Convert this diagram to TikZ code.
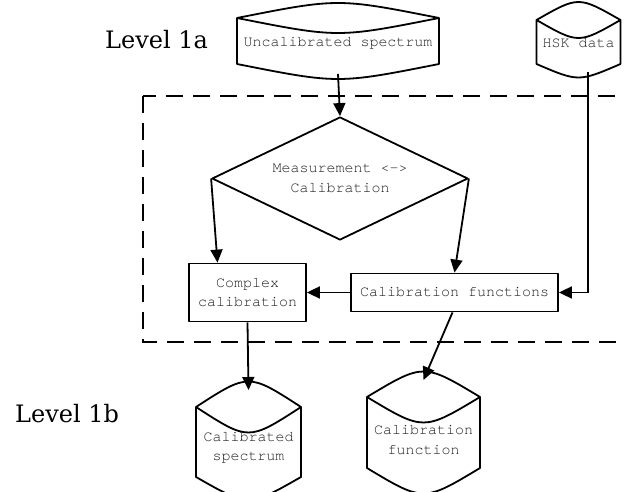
\documentclass[tikz,border=0pt]{standalone}
\usepackage{fontspec}
\setmonofont{TeX Gyre Cursor}
\newfontfamily\lvlfont{DejaVu Serif}
\usetikzlibrary{shapes.geometric,arrows.meta,calc}

% #1 name, #2 centre x, #3 half width, #4 top corner y, #5 bottom corner y, #6 top bulge, #7 bottom bulge
\newcommand\drumshape[7]{%
  \draw[shapeline] (#2-#3,#4) -- (#2-#3,#5) .. controls (#2,#5+2*#7) .. (#2+#3,#5)
    -- (#2+#3,#4) .. controls (#2,#4-2*#6) .. (#2-#3,#4)
    .. controls (#2,#4+2*#6) .. (#2+#3,#4);
  \coordinate (#1-top) at (#2,#4-#6);
  \coordinate (#1-bot) at (#2,#5+#7);
}

\begin{document}
\begin{tikzpicture}[x=1pt,y=-1pt,
  shapeline/.style={draw=black,line width=1.8pt,line join=round},
  txt/.style={font=\ttfamily\fontsize{15}{19.5}\selectfont,text=black!88,align=center},
  box/.style={shapeline,txt,rectangle,inner sep=0pt},
  arr/.style={line width=1.8pt,-{Triangle[length=13pt,width=12pt]}},
  lvl/.style={font=\lvlfont\fontsize{24}{28}\selectfont,anchor=west,inner sep=0pt},
  framebox/.style={line width=1.6pt,dash pattern=on 17pt off 10pt}]
\clip (0,0) rectangle (625,492);

\draw[framebox] (143,96) rectangle (700,342);

\node[lvl] (l1a) at (105,40) {Level 1a};
\node[lvl] (l1b) at (15,414) {Level 1b};

\node[txt] (uncal) at (338,43) {Uncalibrated spectrum};
\drumshape{uncal}{338}{101}{18}{64}{10}{10}
\node[txt] (hsk) at (578.5,43) {HSK data};
\drumshape{hsk}{578.5}{42}{20}{64}{12}{9}
\coordinate (hsk-out) at (588,72.5);

\node[shapeline,txt,diamond,aspect=2.08,inner sep=0pt,minimum width=256pt,minimum height=123pt] (dec) at (340,178.5) {Measurement <->\\Calibration};
\node[box,minimum width=117pt,minimum height=58pt] (complex) at (247.5,292.5) {Complex\\calibration};
\node[box,minimum width=207pt,minimum height=38pt] (calfun) at (454.5,292.5) {Calibration functions};

\node[txt] (calspec) at (248.5,448) {Calibrated\\spectrum};
\drumshape{calspec}{248.5}{52.5}{407}{477}{17}{15}
\node[txt] (calfn) at (423.5,440) {Calibration\\function};
\drumshape{calfn}{423.5}{56.5}{397}{468}{17}{17}

\draw[arr] (uncal-bot) -- (dec.north);
\draw[arr] (dec.west) -- ($(complex.north)+(-30,0)$);
\draw[arr] (dec.east) -- (calfun.north);
\draw[arr] (calfun.west) -- (complex.east);
\draw[arr] (hsk-out) |- (calfun.east);
\draw[arr] (complex.south) -- (calspec-top);
\draw[arr] ($(calfun.south)+(-2,0)$) -- (calfn-top);
\end{tikzpicture}
\end{document}
